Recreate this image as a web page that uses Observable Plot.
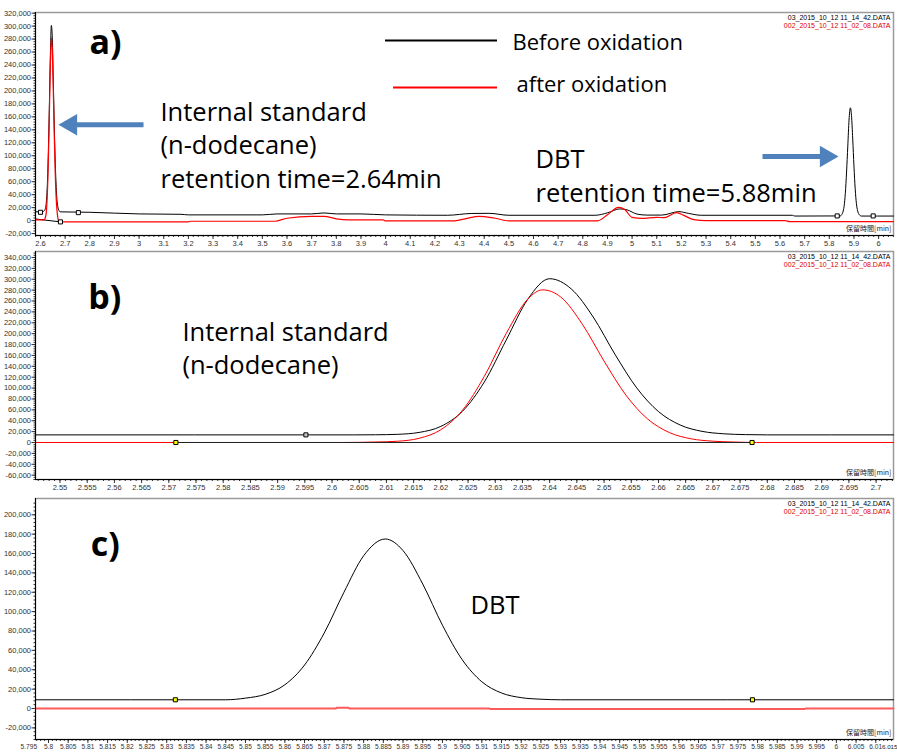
<!DOCTYPE html>
<html><head><meta charset="utf-8">
<script src="https://cdn.jsdelivr.net/npm/d3@7"></script>
<script src="https://cdn.jsdelivr.net/npm/@observablehq/plot@0.6"></script>
<style>
body{margin:0;background:#fff;}
#wrap{position:relative;width:897px;height:753px;overflow:hidden;background:#fff;}
</style></head><body><div id="wrap"></div>
<script>
// ---------- data (retention time [min], signal) ----------
const beforeA = [[2.5797,13500],[2.61,14000],[2.615,15000],[2.62,19000],[2.625,35000],[2.63,80000],[2.635,160000],[2.64,255000],[2.644,301000],[2.648,280000],[2.652,215000],[2.656,145000],[2.66,88000],[2.665,42000],[2.67,22000],[2.675,15500],[2.68,13500],[2.8,12800],[2.9,11500],[3.0,10300],[3.17,9700],[3.2,8800],[3.5,8800],[3.56,10300],[3.7,10300],[3.75,11800],[3.8,10300],[3.9,10300],[4.0,8800],[4.25,8200],[4.35,11000],[4.42,11200],[4.5,8200],[4.85,8200],[4.9,12000],[4.95,18000],[4.98,16500],[5.02,10000],[5.06,8500],[5.12,8500],[5.19,13800],[5.23,11000],[5.28,8200],[5.65,8200],[5.66,7000],[5.845,7200],[5.85,9000],[5.855,13000],[5.86,22000],[5.865,42000],[5.87,75000],[5.875,115000],[5.88,155000],[5.8855,174000],[5.89,162000],[5.895,126000],[5.9,84000],[5.905,49000],[5.91,26000],[5.915,15000],[5.92,10000],[5.93,7000],[6.0604,7000]];
const afterA = [[2.5797,1000],[2.61,1000],[2.615,1500],[2.62,5000],[2.625,20000],[2.63,65000],[2.635,145000],[2.64,240000],[2.644,282000],[2.648,262000],[2.652,198000],[2.656,128000],[2.66,70000],[2.665,25000],[2.67,5000],[2.675,-1500],[2.68,-2000],[3.2,-2000],[3.21,-1000],[3.55,-1000],[3.6,3600],[3.7,6600],[3.75,6600],[3.8,2600],[3.85,1000],[3.99,1000],[4.0,-500],[4.28,-500],[4.33,3500],[4.38,6600],[4.44,4000],[4.5,-300],[4.86,-300],[4.9,9000],[4.945,20500],[4.97,17000],[5.0,5000],[5.04,3500],[5.1,5100],[5.13,4500],[5.18,12300],[5.21,8000],[5.25,1500],[5.3,0],[5.62,0],[5.64,-1500],[6.0604,-1500]];
const baseA = [[2.5797,2500],[2.681,-2000]];

const beforeB = [[2.5455,14000],[2.604,14000],[2.608,14200],[2.612,15000],[2.616,18500],[2.62,29600],[2.624,57600],[2.628,111300],[2.632,188000],[2.636,263500],[2.640,301000],[2.644,282000],[2.648,230700],[2.652,162200],[2.656,100400],[2.66,56900],[2.664,32100],[2.668,20500],[2.672,16000],[2.676,14500],[2.68,14000],[2.7032,14000]];
const afterB = [[2.5455,0],[2.602,0],[2.608,900],[2.612,2300],[2.616,7700],[2.62,23500],[2.624,59500],[2.628,121700],[2.632,200000],[2.636,263700],[2.6387,280500],[2.642,267700],[2.646,217500],[2.65,149700],[2.654,87300],[2.658,43300],[2.662,18300],[2.666,6800],[2.67,2400],[2.674,800],[2.678,0],[2.7032,0]];
const baseB = [[2.5713,0],[2.6772,0]];

const beforeC = [[5.7967,9000],[5.845,9000],[5.85,10700],[5.855,14600],[5.86,24500],[5.865,44900],[5.87,78000],[5.875,120000],[5.88,157700],[5.8855,175000],[5.89,163000],[5.895,128500],[5.9,86000],[5.905,50500],[5.91,27600],[5.915,16000],[5.92,11200],[5.925,9600],[5.93,9000],[6.0145,9000]];
const afterC = [[5.7967,0],[5.873,0],[5.8731,800],[5.8762,800],[5.8763,0],[5.912,0],[5.9121,-500],[5.992,-500],[5.9921,0],[6.0145,0]];

const markersA = [[2.6,12800],[2.681,-2000],[2.7535,12300],[5.832,7200],[5.978,7200]];
const markersB = [[2.5713,0,"#ffff00"],[2.5952,14000,"#cccccc"],[2.6772,0,"#ffff00"]];
const markersC = [[5.8322,9000],[5.9787,9000]];

const fileLabels = ["03_2015_10_12 11_14_42.DATA", "002_2015_10_12 11_02_08.DATA"];
const legendLabels = ["Before oxidation", "after oxidation"];
const axisTitle = "保留時間[min]";
const lastTickC = "6.015";

// ---------- helpers ----------
const rows = arr => arr.map(([t, v, c]) => ({t, v, c}));
const fmtY = v => v === 0 ? "0" : d3.format(",")(v).replace("\u2212", "-");
const fmtX = d => String(+d.toFixed(3));
const within = (arr, d, padL = 0) => arr.filter(x => x >= d[0] - padL - 1e-9 && x <= d[1] + 1e-9);
const wrap = document.getElementById("wrap");
const ANN = "Open Sans, Noto Sans, sans-serif";
const TICKF = "Liberation Sans, Arial, sans-serif";
const BLUE = "#4f81bd";

function panel({top, height, mt, mb, xd, yd, xMaj, xMin, yMaj, yMin, padL = 0, xFont = 7.5, marks}) {
  const svg = Plot.plot({
    width: 897, height, marginLeft: 35, marginRight: 4, marginTop: mt, marginBottom: mb,
    x: {domain: xd}, y: {domain: yd},
    style: {fontFamily: TICKF, fontSize: "7.5px", background: "transparent", color: "#222", overflow: "visible"},
    marks: [
      Plot.frame({stroke: "#9a9a9a", strokeWidth: 1.5}),
      Plot.axisX(within(xMin, xd), {tickSize: 2, tickFormat: () => "", label: null, color: "#333"}),
      Plot.axisX(within(xMaj, xd), {tickSize: 4, tickFormat: () => "", label: null, color: "#333"}),
      Plot.axisX(within(xMaj, xd, padL), {tickSize: 0, tickPadding: 5, tickFormat: fmtX, label: null, color: "#333", fontSize: xFont}),
      Plot.axisY(yMin, {tickSize: 1.5, tickFormat: () => "", label: null, color: "#333"}),
      Plot.axisY(yMaj, {tickSize: 3.5, tickPadding: 1, tickFormat: fmtY, label: null, color: "#333"}),
      ...marks,
      Plot.ruleX([xd[0]], {stroke: "#000", strokeWidth: 1}),
      Plot.ruleY([yd[0]], {stroke: "#000", strokeWidth: 1}),
      Plot.text([fileLabels[0]], {frameAnchor: "top-right", dx: -3, dy: 5, fontSize: 7, fill: "#000", textAnchor: "end", lineAnchor: "middle"}),
      Plot.text([fileLabels[1]], {frameAnchor: "top-right", dx: -3, dy: 13, fontSize: 7, fill: "#e00000", textAnchor: "end", lineAnchor: "middle"}),
      Plot.text([axisTitle], {frameAnchor: "bottom-right", dx: -2, dy: -7, fontSize: 7, fill: "#222", textAnchor: "end", lineAnchor: "middle", fontFamily: "Noto Sans CJK JP"})
    ]
  });
  svg.style.position = "absolute";
  svg.style.top = top + "px";
  svg.style.left = "0px";
  wrap.append(svg);
}

const ann = (t, v, text, o = {}) => Plot.text([{t, v, text}], {x: "t", y: "v", text: "text", textAnchor: "start", lineAnchor: "middle", fontFamily: ANN, fontSize: 26, fill: "#000", ...o});
const arrow = (x1, x2, v, head, rot) => [
  Plot.link([{x1, x2, v}], {x1: "x1", x2: "x2", y1: "v", y2: "v", stroke: BLUE, strokeWidth: 5}),
  Plot.dot([{t: head, v}], {x: "t", y: "v", symbol: "triangle", r: 8, fill: BLUE, stroke: "none", rotate: rot})
];

// ---------- panel a ----------
const xdA = [2.5797, 6.0604], ydA = [-23000, 321000];
panel({
  top: 0, height: 249, mt: 12, mb: 14, xd: xdA, yd: ydA,
  xMaj: d3.range(26, 61).map(i => i / 10),
  xMin: d3.range(129, 304).map(i => i / 50),
  yMaj: d3.range(-20000, 320001, 20000),
  yMin: d3.range(-20000, 320001, 4000),
  marks: [
    Plot.line(rows(baseA), {x: "t", y: "v", stroke: "#000", strokeWidth: 1}),
    Plot.line(rows(beforeA), {x: "t", y: "v", stroke: "#000", strokeWidth: 1, curve: "monotone-x"}),
    Plot.line(rows(afterA), {x: "t", y: "v", stroke: "#ff0000", strokeWidth: 1.2, curve: "monotone-x"}),
    Plot.dot(rows(markersA), {x: "t", y: "v", symbol: "square", r: 2.3, fill: "#fff", stroke: "#000", strokeWidth: 1}),
    ann(2.7988, 273200, "a)", {fontWeight: "bold", fontSize: 34}),
    Plot.ruleY([{v: 277800, x1: 3.9996, x2: 4.454}], {y: "v", x1: "x1", x2: "x2", stroke: "#000", strokeWidth: 2}),
    Plot.ruleY([{v: 205300, x1: 4.0321, x2: 4.454}], {y: "v", x1: "x1", x2: "x2", stroke: "#ff0000", strokeWidth: 2}),
    ann(4.515, 274700, legendLabels[0], {fontSize: 22}),
    ann(4.531, 209900, legendLabels[1], {fontSize: 22}),
    ann(3.0868, 119000, "Internal standard\n(n-dodecane)\nretention time=2.64min", {lineHeight: 1.31, fontSize: 25.5}),
    ann(4.608, 71100, "DBT\nretention time=5.88min", {lineHeight: 1.31, fontSize: 25.5}),
    ...arrow(2.7233, 3.018, 147800, 2.7233, -90),
    ...arrow(5.529, 5.787, 98900, 5.787, 90)
  ]
});

// ---------- panel b ----------
const xdB = [2.5455, 2.7032], ydB = [-68000, 351000];
panel({
  top: 249, height: 246, mt: 2, mb: 16, xd: xdB, yd: ydB,
  xMaj: d3.range(510, 541).map(i => i / 200),
  xMin: d3.range(2546, 2704).map(i => i / 1000),
  yMaj: d3.range(-60000, 340001, 20000),
  yMin: d3.range(-68000, 351000, 4000),
  marks: [
    Plot.line(rows(beforeB), {x: "t", y: "v", stroke: "#000", strokeWidth: 1, curve: "monotone-x"}),
    Plot.line(rows(afterB), {x: "t", y: "v", stroke: "#ff0000", strokeWidth: 1, curve: "monotone-x"}),
    Plot.line(rows(baseB), {x: "t", y: "v", stroke: "#222", strokeWidth: 1}),
    Plot.dot(rows(markersB), {x: "t", y: "v", symbol: "square", r: 2.3, fill: "c", stroke: "#000", strokeWidth: 1}),
    ann(2.5552, 264600, "b)", {fontWeight: "bold", fontSize: 34}),
    ann(2.5725, 176400, "Internal standard\n(n-dodecane)", {lineHeight: 1.31, fontSize: 25.5})
  ]
});

// ---------- panel c ----------
const xdC = [5.7967, 6.0145], ydC = [-32000, 216800];
panel({
  top: 495, height: 258, mt: 3, mb: 14, xd: xdC, yd: ydC, padL: 0.0025, xFont: 6.6,
  xMaj: d3.range(1159, 1203).map(i => i / 200),
  xMin: d3.range(5797, 6015).map(i => i / 1000),
  yMaj: d3.range(-20000, 200001, 20000),
  yMin: d3.range(-32000, 216000, 4000),
  marks: [
    Plot.line(rows(beforeC), {x: "t", y: "v", stroke: "#000", strokeWidth: 1, curve: "monotone-x"}),
    Plot.line(rows(afterC), {x: "t", y: "v", stroke: "#ff5a5a", strokeWidth: 1.8}),
    Plot.dot(rows(markersC), {x: "t", y: "v", symbol: "square", r: 2.3, fill: "#ffff00", stroke: "#000", strokeWidth: 1}),
    ann(5.8107, 168300, "c)", {fontWeight: "bold", fontSize: 34}),
    ann(5.9071, 106300, "DBT", {fontSize: 25.5}),
    Plot.text([lastTickC], {frameAnchor: "bottom-right", dx: 4, dy: 8, fontSize: 6.2, fill: "#222", textAnchor: "end", lineAnchor: "middle", fontFamily: TICKF})
  ]
});
</script></body></html>
